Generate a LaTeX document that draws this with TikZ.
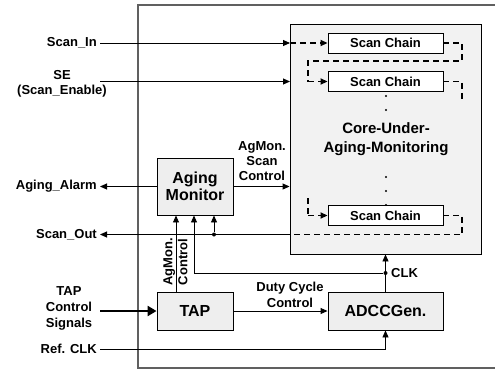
\documentclass[tikz,border=0pt]{standalone}
\usepackage{fontspec}
\setmainfont{Liberation Sans}
\usetikzlibrary{arrows.meta}
\definecolor{boxfill}{HTML}{EEEEEE}
\definecolor{corefill}{HTML}{F2F2F2}
\definecolor{frame}{HTML}{606060}
\begin{document}
\begin{tikzpicture}[x=1pt,y=-1pt,
  lbl/.style={font=\fontsize{13}{15}\selectfont\bfseries, inner sep=0pt, align=center},
  blk/.style={draw, fill=boxfill, line width=0.9pt, font=\fontsize{16}{19}\selectfont\bfseries, align=center, inner sep=0pt},
  chainbox/.style={draw, fill=white, line width=0.9pt, minimum width=115pt, minimum height=20pt, inner sep=0pt, font=\fontsize{13}{15}\selectfont\bfseries},
  conn/.style={line width=0.9pt},
  arr/.style={conn, -{Triangle[length=7pt,width=6pt]}},
  dsh/.style={line width=1.8pt, dash pattern=on 6pt off 4pt},
  darr/.style={dsh, -{Triangle[length=7pt,width=6pt]}},
  dotj/.style={circle, fill, inner sep=0pt, minimum size=4pt},
  tinydot/.style={circle, fill, inner sep=0pt, minimum size=2.4pt}
]
\useasboundingbox (0,0) rectangle (495,370);
\clip (0,0) rectangle (495,370);
% outer frame
\draw[frame, line width=1.2pt] (138,5) rectangle (520,368);
% core
\node[draw, fill=corefill, line width=0.9pt, minimum width=191pt, minimum height=230pt, inner sep=0pt] (core) at (385.5,139) {};
\node[lbl, font=\fontsize{15}{19}\selectfont\bfseries] (coretxt) at (386,139.5) {Core-Under-\\Aging-Monitoring};
% scan chains
\node[chainbox] (sc1) at (385.5,43) {Scan Chain};
\node[chainbox] (sc2) at (385.5,81.5) {Scan Chain};
\node[chainbox] (sc3) at (385.5,215.5) {Scan Chain};
\node[tinydot] (d1) at (386,96) {};
\node[tinydot] (d2) at (386,110) {};
\node[tinydot] (d3) at (386,177) {};
\node[tinydot] (d4) at (386,191) {};
\node[tinydot] (d5) at (386,205) {};
% blocks
\node[blk, minimum width=76pt, minimum height=57pt] (mon) at (195,186.5) {Aging\\[-2pt]Monitor};
\node[blk, minimum width=76pt, minimum height=38pt] (tap) at (195,311) {TAP};
\node[blk, minimum width=115pt, minimum height=38pt] (adcc) at (385.5,311) {ADCCGen.};
% left labels
\node[lbl, anchor=east] (lin) at (97,43) {Scan\_In};
\node[lbl] (lse) at (62,84) {SE\\(Scan\_Enable)};
\node[lbl, anchor=east] (lal) at (97,186.5) {Aging\_Alarm};
\node[lbl, anchor=east] (lso) at (97,234.5) {Scan\_Out};
\node[lbl, font=\fontsize{13}{16}\selectfont\bfseries] (ltap) at (69,308) {TAP\\Control\\Signals};
\node[lbl, anchor=east] (lref) at (97,349) {Ref. CLK};
% coordinates
\coordinate (inS) at (100,43);
\coordinate (inSE) at (100,81.5);
\coordinate (outAl) at (100,186.5);
\coordinate (outSo) at (100,234.5);
\coordinate (inTap) at (100,311);
\coordinate (inRef) at (100,349);
\coordinate (cS) at (290,43);
\coordinate (cSE) at (290,81.5);
\coordinate (cSo) at (290,234.5);
\coordinate (r1) at (462,43);
\coordinate (r1b) at (462,61);
\coordinate (l1) at (308,61);
\coordinate (l1b) at (308,81.5);
\coordinate (r2) at (462,81.5);
\coordinate (r2b) at (462,101);
\coordinate (l3a) at (308,198);
\coordinate (l3b) at (308,215.5);
\coordinate (r3) at (462,215.5);
\coordinate (r3b) at (462,234.5);
\node[dotj] (jso) at (214,234.5) {};
\node[dotj] (jclk) at (385.5,273) {};
\coordinate (clkl) at (194,273);
\coordinate (refc) at (385.5,349);
% scan paths
\draw[arr] (inS) -- (cS);
\draw[darr] (cS) -- (sc1.west);
\draw[arr] (inSE) -- (cSE);
\draw[dsh] (sc1.east) -- (r1) -- (r1b) -- (l1) -- (l1b);
\draw[darr] (l1b) -- (sc2.west);
\draw[dsh] (sc2.east) -- (r2) -- (r2b);
\draw[dsh] (l3a) -- (l3b);
\draw[darr] (l3b) -- (sc3.west);
\draw[dsh] (sc3.east) -- (r3) -- (r3b) -- (cSo);
\draw[arr] (cSo) -- (outSo);
\draw[arr] (jso) -- (jso |- mon.south);
% monitor
\draw[arr] (mon.west) -- (outAl);
\draw[arr] (mon.east) -- (mon.east -| core.west);
\node[lbl] (lagsc) at (262,161.5) {AgMon.\\Scan\\Control};
% TAP
\draw[conn, line width=2.5pt, -{Triangle[length=9pt,width=10pt]}] (inTap) -- (tap.west);
\draw[arr] (tap.north -| 176,0) -- (mon.south -| 176,0);
\node[lbl, rotate=90] (lagc) at (175.5,262) {AgMon.\\Control};
\draw[arr] (tap.east) -- (adcc.west);
\node[lbl, font=\fontsize{13}{16}\selectfont\bfseries] (ldc) at (290,295) {Duty Cycle\\Control};
% clock
\draw[arr] (adcc.north) -- (core.south);
\draw[arr] (jclk) -- (clkl) -- (clkl |- mon.south);
\node[lbl, anchor=west] (lclk) at (391,273) {CLK};
\draw[arr] (inRef) -- (refc) -- (adcc.south);
\end{tikzpicture}
\end{document}
